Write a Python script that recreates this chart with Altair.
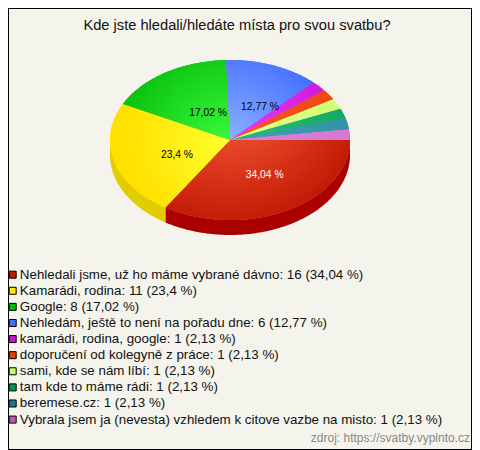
import math
import altair as alt

TITLE = "Kde jste hledali/hledáte místa pro svou svatbu?"
SOURCE = "zdroj: https://svatby.vyplnto.cz"

categories = [
    "Nehledali jsme, už ho máme vybrané dávno",
    "Kamarádi, rodina",
    "Google",
    "Nehledám, ještě to není na pořadu dne",
    "kamarádi, rodina, google",
    "doporučení od kolegyně z práce",
    "sami, kde se nám líbí",
    "tam kde to máme rádi",
    "beremese.cz",
    "Vybrala jsem ja (nevesta) vzhledem k citove vazbe na misto",
]
counts = [16, 11, 8, 6, 1, 1, 1, 1, 1, 1]
percents = ["34,04", "23,4", "17,02", "12,77", "2,13", "2,13", "2,13", "2,13", "2,13", "2,13"]
legend_colors = ["#BE1E00", "#FFEB00", "#00BE00", "#4670FF", "#C814D2",
                 "#E63C00", "#C8FF6E", "#00965A", "#1E788C", "#BE5AB4"]
rim_colors = ["#BE1400", "#FFE100", "#0AC30F", "#466EFF", "#CD19D7",
              "#EB460F", "#CDFF6E", "#0AA05F", "#28829B", "#C369C3"]
center_colors = ["#FF6440", "#FFFF30", "#40FF40", "#8CB4FF", "#F03CFF",
                 "#FF5A28", "#E1FF8C", "#32BE82", "#46A5B9", "#E182D7"]
side_colors = ["#AA0000", "#E1CD00"]
value_label_colors = ["white", "black", "black", "black"]
# label anchors, in pie radii from the centre
value_label_x = [0.289, -0.442, -0.183, 0.25]
value_label_y = [0.295, 0.125, -0.225, -0.275]

TILT = 2 / 3
DEPTH = 15 / 120
total = sum(counts)
labels = [f"{c}: {n} ({p} %)" for c, n, p in zip(categories, counts, percents)]


def ell(a, dy=0.0):
    return [math.cos(a), TILT * math.sin(a) + dy]


def arc(a0, a1, dy=0.0):
    n = max(2, int(abs(a1 - a0) / math.radians(1)) + 1)
    return [ell(a0 + (a1 - a0) * i / n, dy) for i in range(n + 1)]


def feature(pts, **props):
    return {"type": "Feature", "properties": props,
            "geometry": {"type": "Polygon", "coordinates": [pts + [pts[0]]]}}


def geo(feats):
    return alt.InlineData(values={"type": "FeatureCollection", "features": feats},
                          format=alt.DataFormat(property="features", type="json"))


edges = [0.0]
for n in counts:
    edges.append(edges[-1] + 2 * math.pi * n / total)

tops = [[[0.0, 0.0]] + arc(edges[i], edges[i + 1]) for i in range(len(counts))]

# flat base carrying the legend
base = alt.Chart(geo([feature(t, label=l) for t, l in zip(tops, labels)])).mark_geoshape(
    filled=True, strokeWidth=0
).encode(
    color=alt.Color(
        "properties.label:N",
        scale=alt.Scale(domain=labels, range=legend_colors),
        sort=None,
        legend=alt.Legend(
            title=None, orient="none", legendX=-2, legendY=260, symbolType="square",
            symbolSize=49, symbolStrokeColor="black", symbolStrokeWidth=1,
            labelFont="Liberation Sans", labelFontSize=13.35, labelColor="#111111",
            labelLimit=460, rowPadding=1.1, labelOffset=0.5, padding=0, values=labels,
        ),
    )
)

layers = []

# visible rim of the two front slices
for i, col in enumerate(side_colors):
    a0, a1 = edges[i], min(edges[i + 1], math.pi)
    pts = arc(a0, a1) + arc(a1, a0, DEPTH)
    layers.append(alt.Chart(geo([feature(pts)])).mark_geoshape(filled=True, strokeWidth=0, fill=col))

layers.append(base)

for i, t in enumerate(tops):
    xs = [p[0] for p in t]
    ys = [p[1] for p in t]
    w, h = max(xs) - min(xs), max(ys) - min(ys)
    r = math.sqrt((1 / w) * (TILT / h))
    grad = alt.RadialGradient(
        gradient="radial",
        stops=[alt.GradientStop(offset=0, color=center_colors[i]),
               alt.GradientStop(offset=1, color=rim_colors[i])],
        x1=-min(xs) / w, y1=-min(ys) / h, r1=0,
        x2=-min(xs) / w, y2=-min(ys) / h, r2=r,
    )
    layers.append(alt.Chart(geo([feature(t)])).mark_geoshape(filled=True, strokeWidth=0, fill=grad))

for i, col in enumerate(value_label_colors):
    layers.append(
        alt.Chart(alt.Data(values=[{"lon": value_label_x[i], "lat": value_label_y[i],
                                    "txt": f"{percents[i]} %"}]))
        .mark_text(font="Liberation Sans", fontSize=10.3, color=col)
        .encode(longitude="lon:Q", latitude="lat:Q", text="txt:N")
    )

footer = alt.Chart(alt.Data(values=[{"t": SOURCE}])).mark_text(
    font="Liberation Sans", fontSize=12, color="#888888", align="right", baseline="alphabetic"
).encode(x=alt.value(462), y=alt.value(434), text="t:N")
layers.append(footer)

chart = alt.layer(*layers).resolve_scale(color="independent").properties(
    width=464,
    height=442,
    background="#F4F4EC",
    padding=0,
    autosize=alt.AutoSizeParams(type="none"),
    projection=alt.Projection(type="identity", scale=120, translate=[222, 132]),
    title=alt.TitleParams(TITLE, anchor="middle", frame="group", font="Liberation Sans",
                          fontSize=14.67, fontWeight="normal", color="#111111", offset=-25, dx=-3),
).configure_view(stroke="black", strokeWidth=2)

chart.save("out.html", embed_options={"renderer": "svg", "actions": False})
